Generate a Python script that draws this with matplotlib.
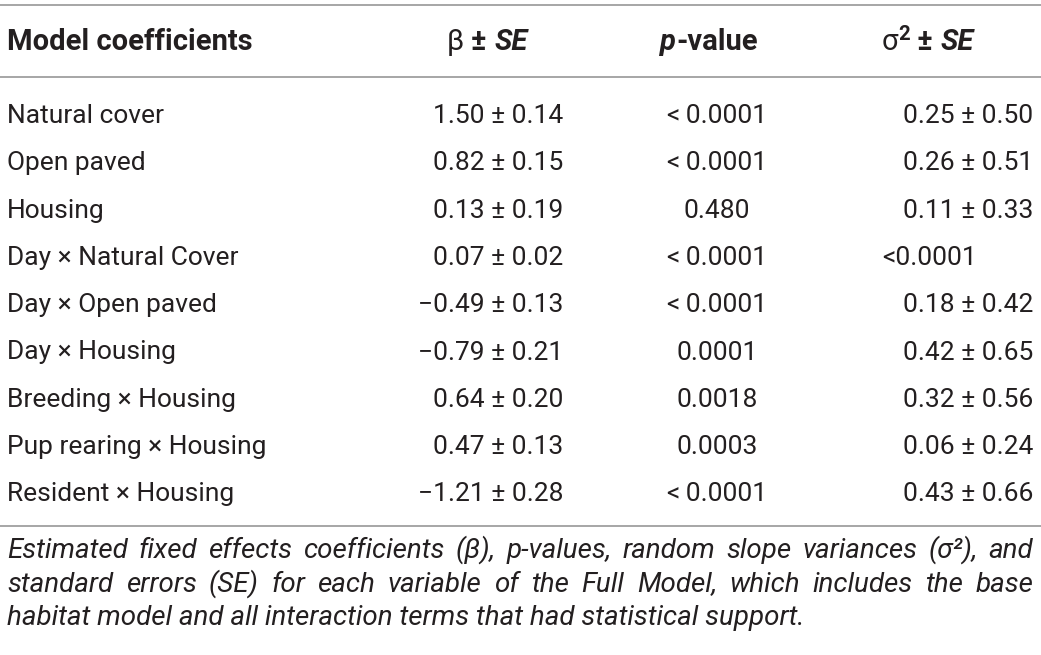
import matplotlib
matplotlib.use("Agg")
import matplotlib.pyplot as plt

# table content
terms = ["Natural cover", "Open paved", "Housing", "Day \u00d7 Natural Cover",
         "Day \u00d7 Open paved", "Day \u00d7 Housing", "Breeding \u00d7 Housing",
         "Pup rearing \u00d7 Housing", "Resident \u00d7 Housing"]
beta = ["1.50 \u00b1 0.14", "0.82 \u00b1 0.15", "0.13 \u00b1 0.19", "0.07 \u00b1 0.02",
        "\u22120.49 \u00b1 0.13", "\u22120.79 \u00b1 0.21", "0.64 \u00b1 0.20",
        "0.47 \u00b1 0.13", "\u22121.21 \u00b1 0.28"]
pvals = ["<\u20090.0001", "<\u20090.0001", "0.480", "<\u20090.0001", "<\u20090.0001",
         "0.0001", "0.0018", "0.0003", "<\u20090.0001"]
sigma = ["0.25 \u00b1 0.50", "0.26 \u00b1 0.51", "0.11 \u00b1 0.33", "<0.0001",
         "0.18 \u00b1 0.42", "0.42 \u00b1 0.65", "0.32 \u00b1 0.56", "0.06 \u00b1 0.24",
         "0.43 \u00b1 0.66"]
caption = [
    "Estimated fixed effects coefficients (\u03b2), p-values, random slope variances (\u03c3\u00b2), and",
    "standard errors (SE) for each variable of the Full Model, which includes the base",
    "habitat model and all interaction terms that had statistical support.",
]

plt.rcParams['font.family'] = ['Roboto', 'DejaVu Sans']

W, H = 1041, 655
fig = plt.figure(figsize=(W / 100, H / 100), dpi=100)
ax = fig.add_axes([0, 0, 1, 1])
ax.set_xlim(0, W)
ax.set_ylim(H, 0)
ax.axis('off')
renderer = fig.canvas.get_renderer()

ink = '#231f20'
rule = '#a6a6a6'
fs = 19
hfs = 21


def pieces(x, y, parts, ha='left'):
    # parts: list of (text, kwargs, dy); drawn side by side
    objs = []
    for s, kw, off in parts:
        t = ax.text(0, y + off, s, color=ink, va='baseline', **kw)
        objs.append(t)
    widths = [t.get_window_extent(renderer).width for t in objs]
    total = sum(widths)
    if ha == 'center':
        x = x - total / 2
    elif ha == 'right':
        x = x - total
    for t, w in zip(objs, widths):
        t.set_x(x)
        x += w


# horizontal rules
for y in [5, 77, 526]:
    ax.plot([0, W], [y, y], color=rule, lw=1.4, solid_capstyle='butt')

# header
hy = 50
bold = dict(fontsize=hfs, fontweight='bold')
bolditalic = dict(fontsize=hfs, fontweight='bold', style='italic')
sup = dict(fontsize=hfs * 0.7, fontweight='bold')
ax.text(7, hy, "Model coefficients", color=ink, va='baseline', **bold)
pieces(487, hy, [("\u03b2 ", dict(fontsize=hfs), 0), ("\u00b1 ", bold, 0),
                 ("SE", bolditalic, 0)], ha='center')
pieces(709, hy, [("p", bolditalic, 0), ("-value", bold, 0)], ha='center')
pieces(882, hy, [("\u03c3", dict(fontsize=hfs), 0), ("2", sup, -10),
                 (" \u00b1 ", bold, 0), ("SE", bolditalic, 0)])

# body rows
y0, dy = 123, 47.3
for i in range(len(terms)):
    y = y0 + i * dy
    ax.text(7, y, terms[i], fontsize=fs, color=ink, va='baseline')
    ax.text(563, y, beta[i], fontsize=fs, color=ink, va='baseline', ha='right')
    ax.text(717, y, pvals[i], fontsize=fs, color=ink, va='baseline', ha='center')
    if sigma[i].startswith('<'):
        ax.text(882, y, sigma[i], fontsize=fs, color=ink, va='baseline', ha='left')
    else:
        ax.text(1033, y, sigma[i], fontsize=fs, color=ink, va='baseline', ha='right')

# caption, justified except the last line
cfs = 20
cy0, cdy = 558, 33.5
x_left, x_right = 7, 1033
for j, line in enumerate(caption):
    y = cy0 + j * cdy
    if j == len(caption) - 1:
        ax.text(x_left, y, line, fontsize=cfs, style='italic', color=ink, va='baseline')
        continue
    words = line.split(' ')
    items = [ax.text(0, y, w, fontsize=cfs, style='italic', color=ink, va='baseline')
             for w in words]
    widths = [t.get_window_extent(renderer).width for t in items]
    gap = (x_right - x_left - sum(widths)) / (len(words) - 1)
    x = x_left
    for t, w in zip(items, widths):
        t.set_x(x)
        x += w + gap

fig.savefig("out.png", dpi=100, facecolor='white')
